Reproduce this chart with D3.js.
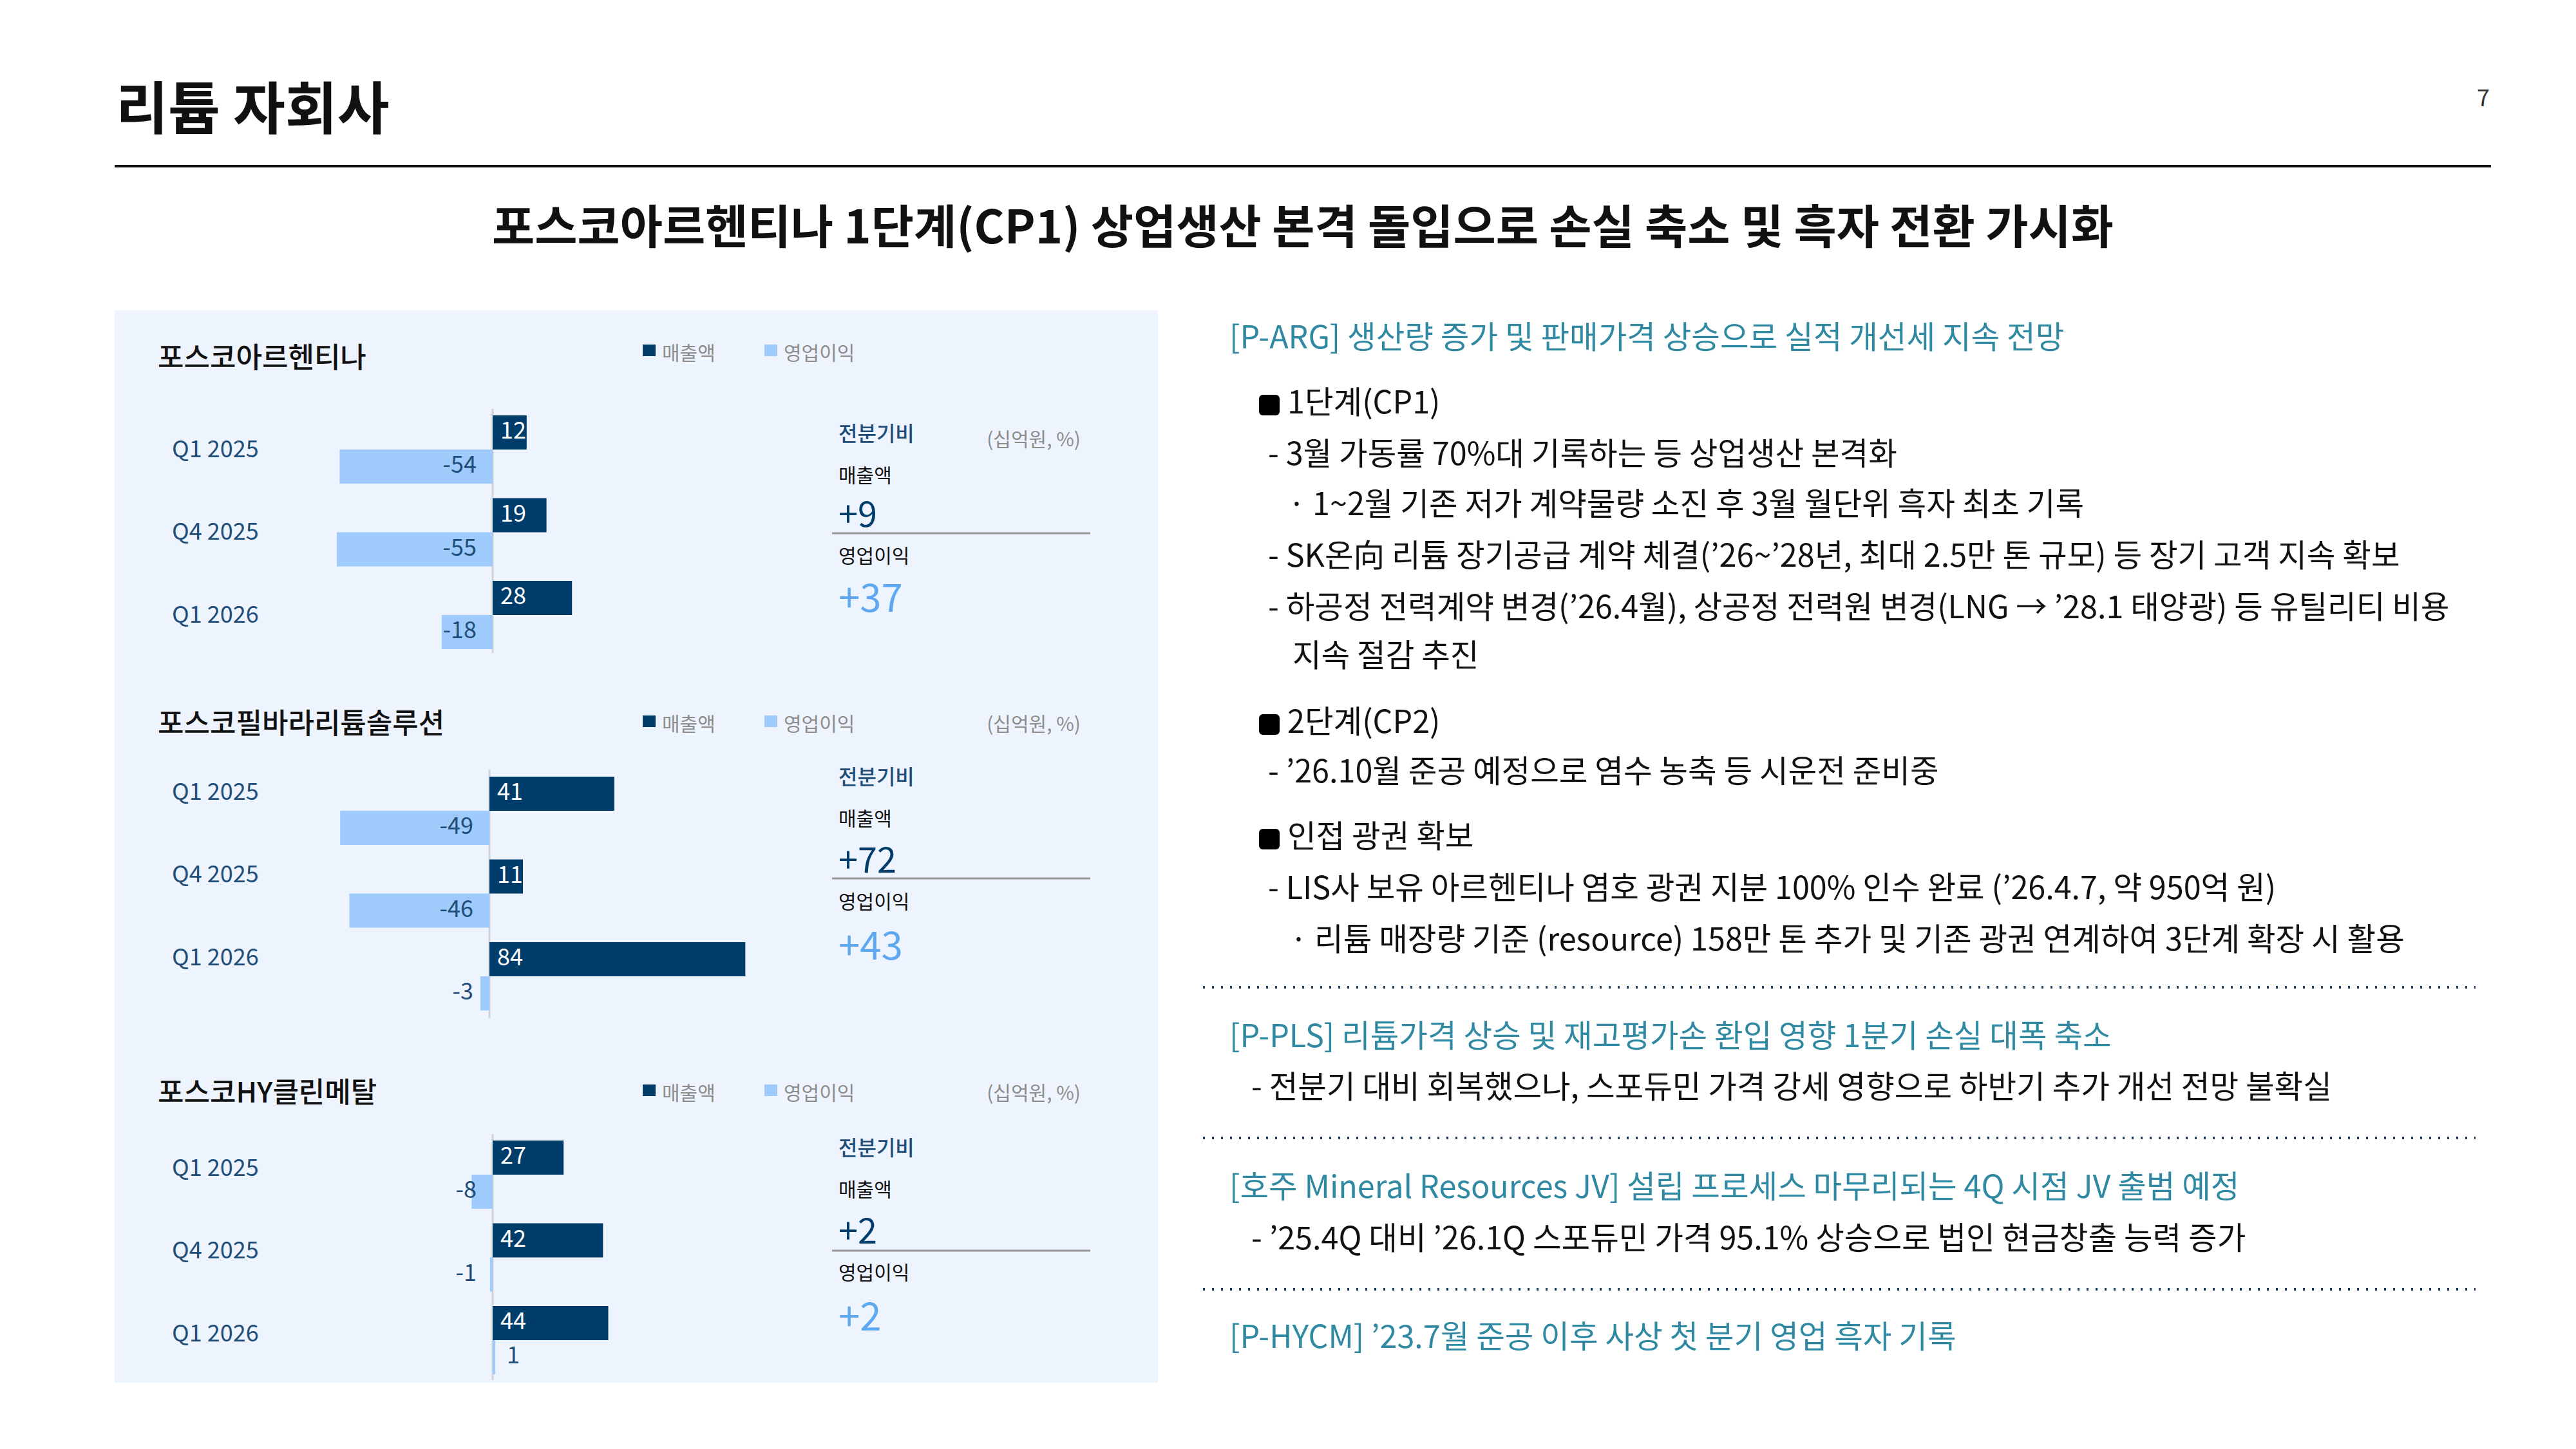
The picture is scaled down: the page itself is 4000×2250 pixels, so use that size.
<!DOCTYPE html>
<meta charset="utf-8">
<style>
    body { margin: 0; background: #fff; }
    text { font-family: "Noto Sans CJK KR", "Noto Sans", sans-serif; }
</style>
<body>
<script src="https://d3js.org/d3.v7.min.js"></script>
<script>

    var width = 4000,
        height = 2250;

    var navy = "#003d6b", light = "#9ecbfb", teal = "#2f89a3";

    // chart data
    var quarters = ["Q1 2025", "Q4 2025", "Q1 2026"];
    var companies = ["포스코아르헨티나", "포스코필바라리튬솔루션", "포스코HY클린메탈"];
    var sales = [[12, 19, 28], [41, 11, 84], [27, 42, 44]];
    var profit = [[-54, -55, -18], [-49, -46, -3], [-8, -1, 1]];
    var qoqSales = ["+9", "+72", "+2"];
    var qoqProfit = ["+37", "+43", "+2"];

    // layout per chart
    var panels = [
        { top: 645, zero: 765, ppu: 4.4, title: 559, legend: 551, unitY: 685, lblOff: 55, line: [635, 1014],
          side: [676, 741, 802, 828, 866, 932] },
        { top: 1206, zero: 760, ppu: 4.73, title: 1127, legend: 1127, unitY: 1127, lblOff: 26, line: [1195, 1581],
          side: [1209, 1274, 1339, 1364, 1403, 1472] },
        { top: 1771, zero: 765, ppu: 4.08, title: 1700, legend: 1700, unitY: 1700, lblOff: 45, line: [1761, 2143],
          side: [1785, 1850, 1915, 1942, 1979, 2048] }
    ];

    var svg = d3.select("body").append("svg")
        .attr("width", width)
        .attr("height", height);

    // header
    svg.append("text").attr("x", 180).attr("y", 200)
        .attr("font-size", 88).attr("font-weight", 700).attr("fill", "#111")
        .text("리튬 자회사");
    svg.append("text").attr("x", 3866).attr("y", 165).attr("text-anchor", "end")
        .attr("font-size", 36).attr("fill", "#333").attr("font-family", "Liberation Serif")
        .text("7");
    svg.append("line").attr("x1", 178).attr("x2", 3868).attr("y1", 258).attr("y2", 258)
        .attr("stroke", "#111").attr("stroke-width", 4);
    svg.append("text").attr("x", 2023).attr("y", 358).attr("text-anchor", "middle")
        .attr("dominant-baseline", "middle")
        .attr("font-size", 72).attr("font-weight", 700).attr("fill", "#111")
        .text("포스코아르헨티나 1단계(CP1) 상업생산 본격 돌입으로 손실 축소 및 흑자 전환 가시화");

    // left panel background
    svg.append("rect").attr("x", 178).attr("y", 482).attr("width", 1620).attr("height", 1665)
        .attr("fill", "#eef4fd");

    panels.forEach(function(p, ci) {
        var g = svg.append("g");
        var x = d3.scaleLinear().domain([0, 100]).range([p.zero, p.zero + p.ppu * 100]);
        var bandY = d3.scaleLinear().domain([0, 1]).range([p.top, p.top + 128.5]);

        g.append("text").attr("x", 245).attr("y", p.title).attr("dominant-baseline", "middle")
            .attr("font-size", 44).attr("font-weight", 500).attr("fill", "#111").text(companies[ci]);

        // legend
        [["매출액", navy, 998], ["영업이익", light, 1187]].forEach(function(l) {
            g.append("rect").attr("x", l[2]).attr("y", p.legend - 16).attr("width", 20).attr("height", 18).attr("fill", l[1]);
            g.append("text").attr("x", l[2] + 30).attr("y", p.legend).attr("dominant-baseline", "middle")
                .attr("font-size", 30).attr("fill", "#8c8c8c").text(l[0]);
        });
        g.append("text").attr("x", 1678).attr("y", p.unitY).attr("text-anchor", "end").attr("dominant-baseline", "middle")
            .attr("font-size", 30).attr("fill", "#8c8c8c").text("(십억원, %)");

        g.append("line").attr("x1", p.zero).attr("x2", p.zero).attr("y1", p.line[0]).attr("y2", p.line[1])
            .attr("stroke", "#d0d4da").attr("stroke-width", 3);

        quarters.forEach(function(q, i) {
            var t = bandY(i), bh = 53;
            g.append("text").attr("x", 267).attr("y", t + p.lblOff).attr("dominant-baseline", "middle")
                .attr("font-size", 36).attr("fill", "#1f4e79").text(q);

            var s = sales[ci][i];
            g.append("rect").attr("x", x(0)).attr("y", t).attr("width", x(s) - x(0)).attr("height", bh).attr("fill", navy);
            g.append("text").attr("x", x(0) + 12).attr("y", t + bh / 2).attr("dominant-baseline", "middle")
                .attr("font-size", 36).attr("fill", "#fff").text(s);

            var v = profit[ci][i];
            var x0 = Math.min(x(0), x(v)), w = Math.abs(x(v) - x(0));
            g.append("rect").attr("x", x0).attr("y", t + bh).attr("width", Math.max(w, 3)).attr("height", bh).attr("fill", light);
            var pos = v >= 0;
            g.append("text").attr("x", pos ? x(0) + 22 : x(0) - 25).attr("y", t + bh * 1.5)
                .attr("text-anchor", pos ? "start" : "end").attr("dominant-baseline", "middle")
                .attr("font-size", 36).attr("fill", "#1f4e79").text(v);
        });

        // side summary
        var sd = p.side;
        g.append("text").attr("x", 1302).attr("y", sd[0]).attr("dominant-baseline", "middle")
            .attr("font-size", 32).attr("font-weight", 500).attr("fill", "#1f4e79").text("전분기비");
        g.append("text").attr("x", 1302).attr("y", sd[1]).attr("dominant-baseline", "middle")
            .attr("font-size", 30).attr("fill", "#111").text("매출액");
        g.append("text").attr("x", 1302).attr("y", sd[2]).attr("font-size", 54).attr("fill", navy)
            .attr("dy", "0.3em").text(qoqSales[ci]);
        g.append("line").attr("x1", 1292).attr("x2", 1693).attr("y1", sd[3]).attr("y2", sd[3])
            .attr("stroke", "#999").attr("stroke-width", 3);
        g.append("text").attr("x", 1302).attr("y", sd[4]).attr("dominant-baseline", "middle")
            .attr("font-size", 30).attr("fill", "#111").text("영업이익");
        g.append("text").attr("x", 1302).attr("y", sd[5]).attr("font-size", 60).attr("fill", "#5ea8f2")
            .attr("dy", "0.3em").text(qoqProfit[ci]);
    });

    // right side text
    var lines = [
        { x: 1909, y: 528, c: teal, t: "[P-ARG] 생산량 증가 및 판매가격 상승으로  실적 개선세 지속 전망" },
        { x: 1955, y: 629, b: true, t: "1단계(CP1)" },
        { x: 1969, y: 709, t: "- 3월 가동률 70%대 기록하는 등 상업생산 본격화" },
        { x: 2000, y: 787, t: "· 1~2월 기존 저가 계약물량 소진 후 3월 월단위 흑자 최초 기록" },
        { x: 1969, y: 867, t: "- SK온向 리튬 장기공급 계약 체결('26~'28년, 최대 2.5만 톤 규모) 등 장기 고객 지속 확보" },
        { x: 1969, y: 947, t: "- 하공정 전력계약 변경('26.4월), 상공정 전력원 변경(LNG → '28.1 태양광) 등 유틸리티 비용" },
        { x: 2007, y: 1022, t: "지속 절감 추진" },
        { x: 1955, y: 1125, b: true, t: "2단계(CP2)" },
        { x: 1969, y: 1202, t: "-  '26.10월 준공 예정으로 염수 농축 등 시운전 준비중" },
        { x: 1955, y: 1303, b: true, t: "인접 광권 확보" },
        { x: 1969, y: 1383, t: "- LIS사 보유 아르헨티나 염호 광권 지분 100% 인수 완료 ('26.4.7, 약 950억 원)" },
        { x: 2003, y: 1463, t: "· 리튬 매장량 기준 (resource) 158만 톤 추가 및 기존 광권 연계하여 3단계 확장 시 활용" },
        { x: 1909, y: 1613, c: teal, t: "[P-PLS] 리튬가격 상승 및 재고평가손 환입 영향 1분기 손실 대폭 축소" },
        { x: 1943, y: 1692, t: "- 전분기 대비 회복했으나, 스포듀민 가격 강세 영향으로 하반기 추가 개선 전망 불확실" },
        { x: 1909, y: 1847, c: teal, t: "[호주 Mineral Resources JV] 설립 프로세스 마무리되는 4Q 시점 JV 출범 예정" },
        { x: 1943, y: 1927, t: "- '25.4Q 대비 '26.1Q 스포듀민 가격 95.1% 상승으로 법인 현금창출 능력 증가" },
        { x: 1909, y: 2080, c: teal, t: "[P-HYCM] '23.7월 준공 이후 사상 첫 분기 영업 흑자 기록" }
    ];
    lines.forEach(function(l) {
        var tx = l.b ? l.x + 44 : l.x;
        if (l.b) svg.append("rect").attr("x", l.x).attr("y", l.y - 16).attr("width", 32).attr("height", 32)
            .attr("rx", 6).attr("fill", "#000");
        svg.append("text").attr("x", tx).attr("y", l.y).attr("dominant-baseline", "middle")
            .attr("font-size", 48.5).attr("fill", l.c || "#111").text(l.t.replace(/'/g, "’"));
    });

    [1533, 1767, 2002].forEach(function(yy) {
        svg.append("line").attr("x1", 1868).attr("x2", 3844).attr("y1", yy).attr("y2", yy)
            .attr("stroke", "#1f3b5c").attr("stroke-width", 4).attr("stroke-dasharray", "3 11");
    });

</script>
